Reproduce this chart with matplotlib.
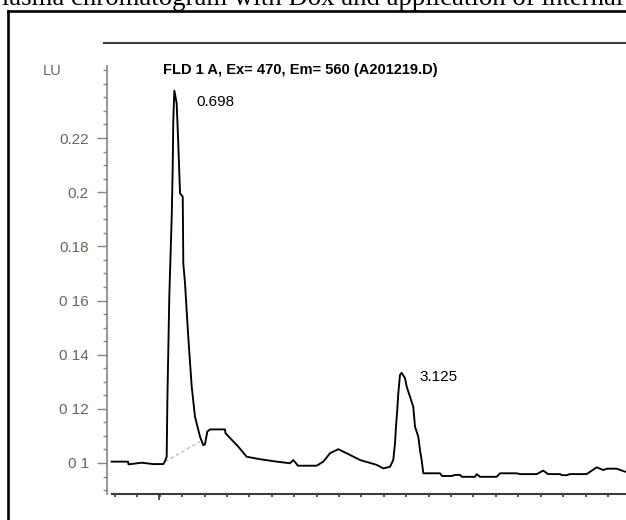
import numpy as np
import matplotlib
matplotlib.use('Agg')
import matplotlib.pyplot as plt
from matplotlib.ticker import MultipleLocator, FixedLocator, FixedFormatter
from matplotlib.lines import Line2D

plt.rcParams['font.family'] = ['Liberation Sans', 'DejaVu Sans']

# retention time (min) and signal (LU)
time_min = [0.020, 0.195, 0.200, 0.342, 0.463, 0.573, 0.591, 0.609, 0.616, 0.637,
            0.663, 0.673, 0.680, 0.691, 0.716, 0.733, 0.752, 0.781, 0.787, 0.805,
            0.840, 0.877, 0.912, 0.966, 1.001, 1.019, 1.044, 1.073, 1.233, 1.239,
            1.376, 1.466, 1.608, 1.787, 1.929, 1.965, 2.015, 2.215, 2.286, 2.358,
            2.446, 2.536, 2.679, 2.858, 2.928, 3.000, 3.035, 3.054, 3.064, 3.078,
            3.089, 3.107, 3.125, 3.161, 3.179, 3.214, 3.249, 3.268, 3.303, 3.321,
            3.339, 3.357, 3.535, 3.557, 3.661, 3.696, 3.749, 3.771, 3.910, 3.928,
            3.964, 4.142, 4.178, 4.357, 4.392, 4.571, 4.641, 4.692, 4.820, 4.842,
            4.892, 4.927, 5.106, 5.213, 5.284, 5.323, 5.427, 5.516]
signal_lu = [0.1005, 0.1005, 0.0995, 0.1001, 0.0996, 0.0996, 0.1007, 0.1023, 0.1222, 0.1614,
             0.1910, 0.2082, 0.2267, 0.2375, 0.2328, 0.2181, 0.1996, 0.1983, 0.1737, 0.1665,
             0.1466, 0.1282, 0.1171, 0.1097, 0.1066, 0.1069, 0.1116, 0.1124, 0.1124, 0.1110,
             0.1060, 0.1023, 0.1014, 0.1005, 0.0999, 0.1011, 0.0990, 0.0990, 0.1005, 0.1036,
             0.1051, 0.1036, 0.1011, 0.0993, 0.0980, 0.0986, 0.1011, 0.1073, 0.1134, 0.1196,
             0.1257, 0.1325, 0.1333, 0.1313, 0.1282, 0.1245, 0.1208, 0.1134, 0.1097, 0.1048,
             0.1011, 0.0962, 0.0962, 0.0952, 0.0952, 0.0956, 0.0956, 0.0949, 0.0949, 0.0959,
             0.0949, 0.0949, 0.0962, 0.0962, 0.0959, 0.0959, 0.0972, 0.0959, 0.0959, 0.0955,
             0.0955, 0.0959, 0.0959, 0.0984, 0.0974, 0.0979, 0.0979, 0.0968]

# integration baseline drawn under the first peak
base_t = [0.591, 0.966]
base_v = [0.1005, 0.1079]

peak_labels = ['0.698', '3.125']
label_t = [0.923, 3.314]
label_v = [0.2333, 0.1319]

ytick_vals = [0.10, 0.12, 0.14, 0.16, 0.18, 0.20, 0.22]
ytick_txt = ['0 1', '0 12', '0 14', '0 16', '0.18', '0.2', '0.22']

W, H = 626, 520
fig = plt.figure(figsize=(W / 100, H / 100), dpi=100)
fig.patch.set_facecolor('white')

def fx(px):
    return px / W

def fy(py):
    return 1 - py / H

# caption, cut off at the top of the crop
fig.text(fx(623), fy(5), 'Plasma chromatogram with Dox and application of internal',
         family='Liberation Serif', fontsize=19.3, ha='right', va='baseline', color='black')

# frame around the chromatogram
fig.add_artist(Line2D([fx(8), fx(8)], [fy(11), fy(530)], color='black', lw=1.9))
fig.add_artist(Line2D([fx(8), fx(640)], [fy(11), fy(11)], color='black', lw=1.9))
fig.add_artist(Line2D([fx(104), fx(640)], [fy(43), fy(43)], color='#3c3c3c', lw=1.5))

ax = fig.add_axes([fx(107), fy(494), (650 - 107) / W, (494 - 66) / H])
ax.plot(base_t, base_v, color='#b2c2a0', lw=0.9, ls=(0, (3, 2)))
ax.plot(time_min, signal_lu, color='black', lw=1.35)

ax.set_xlim(-0.030, 5.784)
ax.set_ylim(0.08855, 0.2466)

for s in ['top', 'right']:
    ax.spines[s].set_visible(False)
ax.spines['left'].set_color('#8a847c')
ax.spines['left'].set_linewidth(1.2)
ax.spines['bottom'].set_color('#3a3a3a')
ax.spines['bottom'].set_linewidth(1.5)
ax.spines['bottom'].set_bounds(0.024, 5.784)

ax.yaxis.set_major_locator(FixedLocator(ytick_vals))
ax.yaxis.set_major_formatter(FixedFormatter(ytick_txt))
ax.yaxis.set_minor_locator(MultipleLocator(0.005))
ax.tick_params(axis='y', which='major', length=7, width=1.0, color='#8a847c',
               labelcolor='#6e6359', labelsize=11, pad=6)
ax.tick_params(axis='y', which='minor', length=3, width=1.0, color='#8a847c')

ax.xaxis.set_major_locator(MultipleLocator(0.24, offset=0.054))
ax.xaxis.set_minor_locator(FixedLocator([0.530]))
ax.tick_params(axis='x', which='major', length=2.5, width=1.1, color='#2a2a2a',
               labelbottom=False)
ax.tick_params(axis='x', which='minor', length=4.5, width=1.1, color='#2a2a2a',
               labelbottom=False)

fig.text(fx(43), fy(71), 'LU', color='#6e6359', fontsize=10.5, ha='left', va='center')
fig.text(fx(163), fy(70), 'FLD 1 A, Ex= 470, Em= 560 (A201219.D)',
         fontsize=10.5, fontweight='bold', ha='left', va='center', color='black')

for lab, t, v in zip(peak_labels, label_t, label_v):
    ax.text(t, v, lab, fontsize=11, ha='left', va='center', color='black')

fig.savefig('out.png', dpi=100)
